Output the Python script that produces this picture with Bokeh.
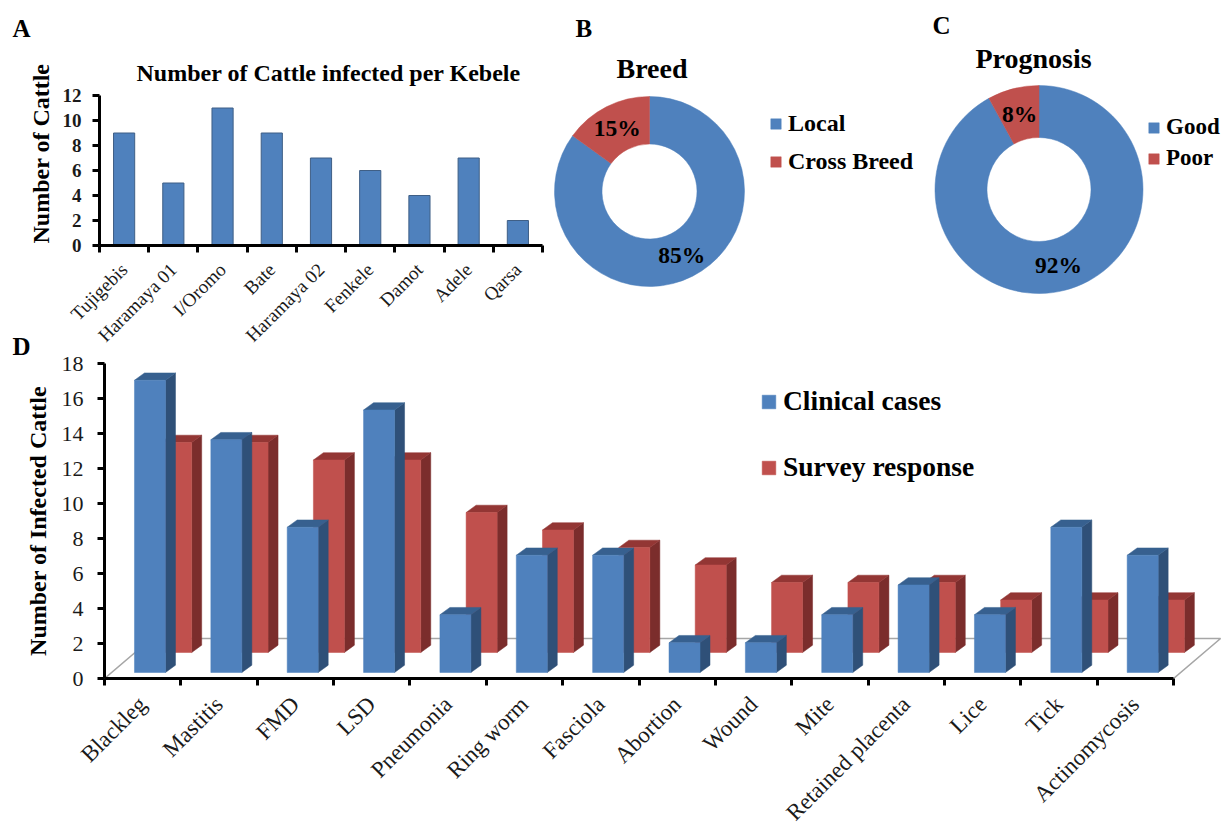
from math import pi, cos, sin

from bokeh.embed import file_html
from bokeh.layouts import column, row
from bokeh.models import FixedTicker, Legend, LegendItem, Range1d, Title
from bokeh.plotting import figure
from bokeh.resources import INLINE

# Cattle infected per kebele
kebeles = ["Tujigebis", "Haramaya 01", "I/Oromo", "Bate", "Haramaya 02",
           "Fenkele", "Damot", "Adele", "Qarsa"]
kebele_counts = [9, 5, 11, 9, 7, 6, 4, 7, 2]

# Breed and prognosis shares, in percent
breed_names = ["Local", "Cross Breed"]
breed_share = [85, 15]
prognosis_names = ["Good", "Poor"]
prognosis_share = [92, 8]

# Disease counts
diseases = ["Blackleg", "Mastitis", "FMD", "LSD", "Pneumonia", "Ring worm",
            "Fasciola", "Abortion", "Wound", "Mite", "Retained placenta",
            "Lice", "Tick", "Actinomycosis"]
clinical_cases = [16.7, 13.3, 8.3, 15.0, 3.3, 6.7, 6.7, 1.7, 1.7, 3.3, 5.0, 3.3, 8.3, 6.7]
survey_response = [12, 12, 11, 11, 8, 7, 6, 5, 4, 4, 4, 3, 3, 3]

SERIF = "Liberation Serif"
BLUE, BLUE_SIDE, BLUE_TOP = "#4F81BD", "#2F5078", "#37608F"
RED, RED_SIDE, RED_TOP = "#C0504D", "#7B2D2C", "#933634"
TOP_HEIGHT = 345


def add_titles(fig, panel, panel_offset, panel_standoff, text, size, offset, standoff):
    """Stack the panel letter above the panel's own title, when it has one."""
    if text:
        fig.add_layout(Title(text=text, align="left", offset=offset, standoff=standoff,
                             text_font=SERIF, text_font_style="bold", text_font_size=size,
                             text_color="black"), "above")
    fig.add_layout(Title(text=panel, align="left", offset=panel_offset, standoff=panel_standoff,
                         text_font=SERIF, text_font_style="bold", text_font_size="25px",
                         text_color="black"), "above")


def style_axes(fig, ticks, labels, tick_size, label_size, label_weight, x_standoff, y_standoff):
    xa, ya = fig.xaxis[0], fig.yaxis[0]
    xa.ticker = FixedTicker(ticks=ticks,
                            minor_ticks=[t - 0.5 for t in ticks] + [ticks[-1] + 0.5])
    xa.major_label_overrides = dict(zip(ticks, labels))
    xa.major_label_orientation = pi / 4
    xa.major_label_standoff = x_standoff
    xa.major_tick_line_color = None
    xa.major_tick_in = xa.major_tick_out = 0
    xa.minor_tick_in = 0
    xa.minor_tick_out = 7
    xa.minor_tick_line_width = 3
    xa.minor_tick_line_color = "black"
    xa.bounds = (ticks[0] - 0.5, ticks[-1] + 0.5)
    xa.axis_line_width = 3
    xa.axis_line_color = "black"
    xa.major_label_text_font = SERIF
    xa.major_label_text_font_size = label_size
    xa.major_label_text_color = "#1a1a1a"
    ya.major_tick_in = 0
    ya.major_tick_out = 7
    ya.major_tick_line_width = 3
    ya.major_tick_line_color = "black"
    ya.minor_tick_line_color = None
    ya.axis_line_width = 3
    ya.axis_line_color = "black"
    ya.major_label_text_font = SERIF
    ya.major_label_text_font_size = tick_size
    ya.major_label_text_font_style = label_weight
    ya.major_label_text_color = "#1a1a1a"
    ya.major_label_standoff = y_standoff
    ya.axis_label_text_font = SERIF
    ya.axis_label_text_font_style = "bold"
    ya.axis_label_text_color = "black"
    fig.grid.visible = False
    fig.outline_line_color = None


# Panel A: simple bar chart
a = figure(width=550, height=357, output_backend="svg", toolbar_location=None,
           x_range=Range1d(-0.5, 8.5), y_range=Range1d(0, 12),
           min_border_left=99, min_border_right=8, min_border_top=95, min_border_bottom=112)
add_titles(a, "A", -87, 12, "Number of Cattle infected per Kebele", "24px", 37, 20)
a.vbar(x=list(range(len(kebeles))), top=kebele_counts, width=0.43, bottom=0,
       fill_color=BLUE, line_color="#3F5F86", line_width=1)
style_axes(a, list(range(len(kebeles))), kebeles, "19px", "19px", "bold", 14, 11)
a.yaxis[0].ticker = FixedTicker(ticks=list(range(0, 13, 2)))
# The y label starts at the foot of the axis rather than at its middle
a.add_layout(Title(text="Number of Cattle", align="left", offset=2, standoff=12,
                   text_font=SERIF, text_font_style="bold", text_font_size="24px",
                   text_color="black"), "left")


def donut(names, shares, title, width, cx, cy, radius, top_border, title_offset,
          legend_xy, legend_spacing, legend_size, panel, letter_offset, letter_standoff):
    fig = figure(width=width, height=TOP_HEIGHT, output_backend="svg", toolbar_location=None,
                 min_border_left=0, min_border_right=0, min_border_top=top_border,
                 min_border_bottom=0,
                 x_range=Range1d(-cx / radius, (width - cx) / radius),
                 y_range=Range1d(-(TOP_HEIGHT - cy) / radius, (cy - top_border) / radius))
    fig.axis.visible = False
    fig.grid.visible = False
    fig.outline_line_color = None
    add_titles(fig, panel, letter_offset, letter_standoff, title, "28px", title_offset, 4)

    # First slice runs clockwise from twelve o'clock
    start = pi / 2
    items = []
    colors = [BLUE, RED]
    for name, share, color in zip(names, shares, colors):
        sweep = share / 100 * 2 * pi
        r = fig.annular_wedge(x=0, y=0, inner_radius=0.5, outer_radius=1,
                              start_angle=start - sweep, end_angle=start,
                              fill_color=color, line_color=color, line_width=0.5)
        mid = start - sweep / 2
        fig.text(x=[0.75 * cos(mid)], y=[0.75 * sin(mid)], text=[f"{share}%"],
                 text_align="center", text_baseline="middle", text_font={"value": SERIF},
                 text_font_style="bold", text_font_size="23.5px", text_color="black")
        items.append(LegendItem(label=name, renderers=[r]))
        start -= sweep
    fig.add_layout(Legend(items=items, location=legend_xy, border_line_color=None,
                          background_fill_alpha=0, margin=0, padding=0, spacing=legend_spacing,
                          glyph_width=13, glyph_height=13, label_standoff=6,
                          label_text_font=SERIF, label_text_font_style="bold",
                          label_text_font_size=legend_size, label_text_color="black"))
    return fig


b = donut(breed_names, breed_share, "Breed", 375, 99, 191, 95, 85, 66,
          (219, 170), 11, "24px", "B", 25, 14)
c = donut(prognosis_names, prognosis_share, "Prognosis", 297, 113.5, 189, 104, 75, 50,
          (222, 174), 5, "23px", "C", 7, 0)

# Panel D: bars with a drawn depth, rear row raised on a sloping floor.
# Its canvas overlaps the row above by a transparent strip that holds the panel letter.
PX_X, PX_Y = 76.36, 17.5
DEPTH_X, DEPTH_Y = 10 / PX_X, 7.3 / PX_Y
d = figure(width=1222, height=520, output_backend="svg", toolbar_location=None,
           x_range=Range1d(-0.5, -0.5 + (1222 - 104) / PX_X), y_range=Range1d(0, 18),
           min_border_left=104, min_border_right=0, min_border_top=38, min_border_bottom=167,
           border_fill_color=None, background_fill_color=None, margin=(-32, 0, 0, 0))
add_titles(d, "D", -92, 8, None, None, None, None)

idx = list(range(len(diseases)))
BAR_W = 31 / PX_X
floor_x = [-0.5, -0.5 + 47 / PX_X, 13.5 + 47 / PX_X, 13.5]
floor_y = [0, 40 / PX_Y, 40 / PX_Y, 0]
d.line(x=floor_x, y=floor_y, line_color="#A6A6A6", line_width=1.6)


def cuboids(values, base, shift, front, side, top):
    lefts = [i + shift - BAR_W / 2 for i in idx]
    rights = [l + BAR_W for l in lefts]
    tops = [base + v for v in values]
    d.patches(xs=[[r, r + DEPTH_X, r + DEPTH_X, r] for r in rights],
              ys=[[base, base + DEPTH_Y, t + DEPTH_Y, t] for t in tops],
              fill_color=side, line_color=side, line_width=0.5)
    d.patches(xs=[[l, l + DEPTH_X, r + DEPTH_X, r] for l, r in zip(lefts, rights)],
              ys=[[t, t + DEPTH_Y, t + DEPTH_Y, t] for t in tops],
              fill_color=top, line_color=top, line_width=0.5)
    return d.vbar(x=[i + shift for i in idx], top=tops, bottom=base, width=BAR_W,
                  fill_color=front, line_color=front, line_width=0.5)


red_front = cuboids(survey_response, 26 / PX_Y, 33.5 / PX_X, RED, RED_SIDE, RED_TOP)
blue_front = cuboids(clinical_cases, 6 / PX_Y, 7.3 / PX_X, BLUE, BLUE_SIDE, BLUE_TOP)

style_axes(d, idx, diseases, "22px", "23px", "normal", 15, 14)
d.yaxis[0].ticker = FixedTicker(ticks=list(range(0, 19, 2)))
d.yaxis[0].axis_label = "Number of Infected Cattle"
d.yaxis[0].axis_label_text_font_size = "24px"
d.yaxis[0].axis_label_standoff = 8

d.add_layout(Legend(items=[LegendItem(label="Clinical cases", renderers=[blue_front]),
                           LegendItem(label="Survey response", renderers=[red_front])],
                    location=(656, 195), border_line_color=None, background_fill_alpha=0,
                    margin=0, padding=0, spacing=34, glyph_width=17, glyph_height=17,
                    label_standoff=6, label_text_font=SERIF, label_text_font_style="bold",
                    label_text_font_size="27.5px", label_text_color="black"))

# Each figure sits in its own column so the row leaves their frames independent;
# the outer column keeps the page to one window and trims the spare axis room.
page = column(row(column(a), column(b), column(c), spacing=0), d, spacing=0,
              height=825, styles={"overflow": "hidden"})
open("out.html", "w").write(file_html(page, INLINE))
